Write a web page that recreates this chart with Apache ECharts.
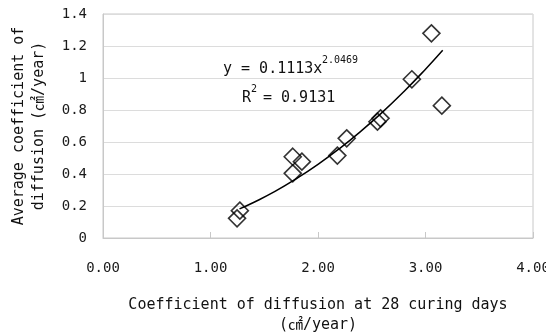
<!DOCTYPE html>
<html><head><meta charset="utf-8">
<script src="https://cdn.jsdelivr.net/npm/echarts@6/dist/echarts.min.js"></script>
<style>html,body{margin:0;padding:0;background:#fff}#c{width:546px;height:336px}</style>
</head><body><div id="c"></div>
<script>
const xValues = [1.247, 1.273, 1.765, 1.765, 1.850, 2.180, 2.267, 2.553, 2.582, 2.873, 3.055, 3.152];
const yValues = [0.123, 0.171, 0.508, 0.404, 0.477, 0.515, 0.623, 0.727, 0.748, 0.992, 1.279, 0.827];
const trendX = [1.27, 1.4, 1.6, 1.8, 2.0, 2.2, 2.4, 2.6, 2.8, 3.0, 3.16];
const trendY = [0.182, 0.222, 0.291, 0.371, 0.460, 0.559, 0.668, 0.787, 0.916, 1.055, 1.173];
const xTickLabels = ['0.00', '1.00', '2.00', '3.00', '4.00'];
const yTickLabels = ['0', '0.2', '0.4', '0.6', '0.8', '1', '1.2', '1.4'];
const xTitle = 'Coefficient of diffusion at 28 curing days\n(㎠/year)';
const yTitle = 'Average coefficient of\ndiffusion (㎠/year)';
const eqMain = 'y = 0.1113x';
const eqExp = '2.0469';
const r2R = 'R';
const r2Sup = '2';
const r2Val = '= 0.9131';

const FONT = "'DejaVu Sans Mono', 'Noto Sans CJK KR', monospace";
const chart = echarts.init(document.getElementById('c'), null, {renderer: 'canvas'});
const scatterData = xValues.map((x, i) => [x, yValues[i]]);
const trendData = trendX.map((x, i) => [x, trendY[i]]);

chart.setOption({
  animation: false,
  backgroundColor: '#fff',
  grid: {left: 103, right: 13, top: 14, bottom: 98, containLabel: false, outerBoundsMode: 'none',
    show: true, borderColor: '#c8c8c8', borderWidth: 1, backgroundColor: 'transparent'},
  xAxis: {
    type: 'value', min: 0, max: 4, interval: 1,
    name: xTitle, nameLocation: 'middle', nameGap: 57,
    nameTextStyle: {fontFamily: FONT, fontSize: 15, color: '#111', lineHeight: 20},
    axisLine: {show: true, lineStyle: {color: '#c8c8c8', width: 1}},
    axisTick: {show: true, inside: true, length: 6, lineStyle: {color: '#c8c8c8'}},
    axisLabel: {fontFamily: FONT, fontSize: 14, color: '#1a1a1a', margin: 23,
      formatter: v => xTickLabels[Math.round(v)]},
    splitLine: {show: false}
  },
  yAxis: {
    type: 'value', min: 0, max: 1.4, interval: 0.2,
    name: yTitle, nameLocation: 'middle', nameGap: 54,
    nameTextStyle: {fontFamily: FONT, fontSize: 15, color: '#111', lineHeight: 20},
    axisLine: {show: true, lineStyle: {color: '#c8c8c8', width: 1}},
    axisTick: {show: false},
    axisLabel: {fontFamily: FONT, fontSize: 14, color: '#1a1a1a', margin: 16,
      formatter: v => yTickLabels[Math.round(v / 0.2)]},
    splitLine: {show: true, lineStyle: {color: '#dcdcdc', width: 1}}
  },
  series: [
    {
      type: 'scatter', data: scatterData, symbol: 'diamond', symbolSize: 17,
      itemStyle: {color: 'rgba(255,255,255,0)', borderColor: '#000', borderWidth: 1.6},
      z: 2
    },
    {
      type: 'line', data: trendData, smooth: true, showSymbol: false, symbol: 'none',
      lineStyle: {color: '#000', width: 1.5}, z: 3
    }
  ],
  graphic: [
    {type: 'text', x: 223, y: 69, style: {text: eqMain, font: '15px ' + FONT, fill: '#111', textVerticalAlign: 'middle', verticalAlign: 'middle'}},
    {type: 'text', x: 322, y: 60, style: {text: eqExp, font: '10px ' + FONT, fill: '#111', textVerticalAlign: 'middle', verticalAlign: 'middle'}},
    {type: 'text', x: 242, y: 98, style: {text: r2R, font: '15px ' + FONT, fill: '#111', textVerticalAlign: 'middle', verticalAlign: 'middle'}},
    {type: 'text', x: 251, y: 89, style: {text: r2Sup, font: '10px ' + FONT, fill: '#111', textVerticalAlign: 'middle', verticalAlign: 'middle'}},
    {type: 'text', x: 263, y: 98, style: {text: r2Val, font: '15px ' + FONT, fill: '#111', textVerticalAlign: 'middle', verticalAlign: 'middle'}}
  ]
});
</script></body></html>
